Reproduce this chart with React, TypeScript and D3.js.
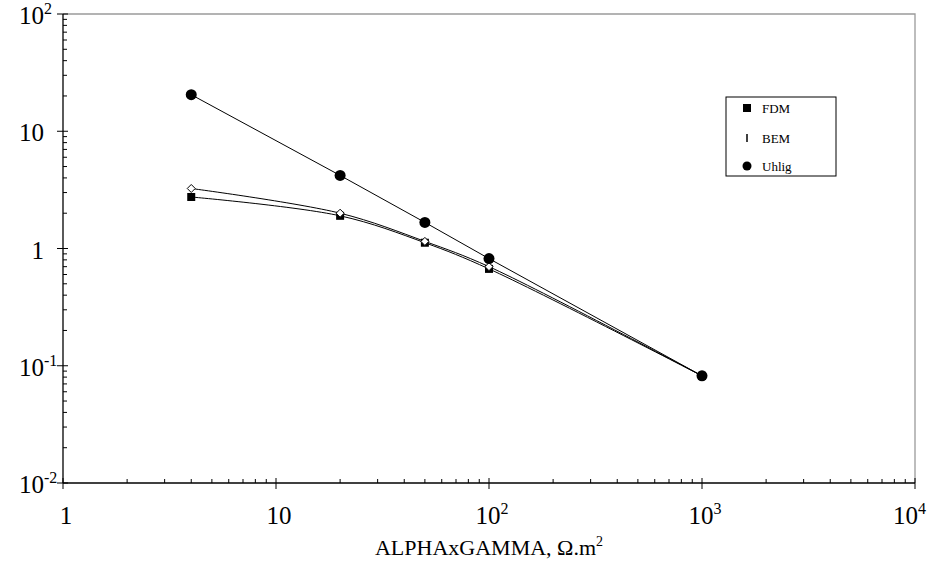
import React from "react";
import * as d3 from "d3";

const xValues = [4, 20, 50, 100, 1000];
const fdmValues = [2.75, 1.9, 1.12, 0.67, 0.082];
const bemValues = [3.25, 2.0, 1.15, 0.7, 0.082];
const uhligValues = [20.5, 4.2, 1.67, 0.82, 0.082];
const xTickExps = [0, 1, 2, 3, 4];
const yTickExps = [-2, -1, 0, 1, 2];
const legendLabels = ["FDM", "BEM", "Uhlig"];
const xTitle = "ALPHAxGAMMA, Ω.m";

const W = 928;
const H = 564;
const L = 63, R = 915, T = 14, B = 483;
const FONT = "Liberation Serif, Times New Roman, Times, serif";

export default function App() {
  const x = d3.scaleLog().domain([1, 1e4]).range([L, R]);
  const y = d3.scaleLog().domain([0.01, 100]).range([B, T]);

  const minorX: number[] = [];
  for (let e = 0; e < 4; e++) for (let k = 2; k <= 9; k++) minorX.push(k * Math.pow(10, e));
  const minorY: number[] = [];
  for (let e = -2; e < 2; e++) for (let k = 2; k <= 9; k++) minorY.push(k * Math.pow(10, e));

  const straight = d3.line<number>().x((_, i) => x(xValues[i])).y((d) => y(d));
  const smooth = d3
    .line<number>()
    .x((_, i) => x(xValues[i]))
    .y((d) => y(d))
    .curve(d3.curveCatmullRom.alpha(0.5));

  const diamond = (cx: number, cy: number, r: number) =>
    `M${cx},${cy - r}L${cx + r},${cy}L${cx},${cy + r}L${cx - r},${cy}Z`;

  const lg = { x: 726, y: 97, w: 110, h: 79 };
  const legendY = [108, 138, 166];
  const ts = { fontFamily: FONT };

  return (
    <svg
      width={W}
      height={H}
      style={{ position: "absolute", left: 0, top: 0, background: "#fff", fontFamily: FONT }}
    >
      <rect x={0} y={0} width={W} height={H} fill="#fff" />
      <path d={`M${L},${T}H${R}V${B}`} fill="none" stroke="#9a9a9a" strokeWidth={1.3} />
      <line x1={L} x2={L} y1={T} y2={B} stroke="#000" strokeWidth={1.3} />
      <line x1={L} x2={R} y1={B} y2={B} stroke="#000" strokeWidth={1.3} />

      {yTickExps.map((e) => (
        <line key={"ym" + e} x1={L - 6} x2={L + 5} y1={y(Math.pow(10, e))} y2={y(Math.pow(10, e))} stroke="#000" strokeWidth={1} />
      ))}
      {minorY.map((v) => (
        <line key={"yn" + v} x1={L} x2={L + 4} y1={y(v)} y2={y(v)} stroke="#000" strokeWidth={1} />
      ))}
      {xTickExps.map((e) => (
        <line key={"xm" + e} x1={x(Math.pow(10, e))} x2={x(Math.pow(10, e))} y1={B - 5} y2={B + 6} stroke="#000" strokeWidth={1} />
      ))}
      {minorX.map((v) => (
        <line key={"xn" + v} x1={x(v)} x2={x(v)} y1={B - 4} y2={B} stroke="#000" strokeWidth={1} />
      ))}

      {yTickExps.map((e) => {
        const yy = y(Math.pow(10, e)) + 10;
        const base = e === 0 ? "1" : "10";
        return (
          <g key={"yl" + e}>
            <text style={ts} x={44} y={yy} textAnchor="end" fontSize={25} fill="#000">{base}</text>
            {e !== 0 && e !== 1 && (
              <text style={ts} x={44} y={yy - 10} fontSize={16} fill="#000">{String(e)}</text>
            )}
          </g>
        );
      })}
      {xTickExps.map((e) => {
        const xx = x(Math.pow(10, e)) + 3;
        return (
          <text
            style={ts}
            key={"xl" + e}
            x={e === 4 ? 926 : xx}
            y={524}
            textAnchor={e === 4 ? "end" : "middle"}
            fontSize={25}
            fill="#000"
          >
            <tspan>{e === 0 ? "1" : "10"}</tspan>
            {e > 1 && <tspan dy={-10} fontSize={16}>{String(e)}</tspan>}
          </text>
        );
      })}
      <text style={ts} x={489} y={555} textAnchor="middle" fontSize={22} fill="#000">
        <tspan>{xTitle}</tspan>
        <tspan dy={-9} fontSize={14}>2</tspan>
      </text>

      <path d={straight(uhligValues) || ""} fill="none" stroke="#000" strokeWidth={1} />
      <path d={smooth(fdmValues) || ""} fill="none" stroke="#000" strokeWidth={1} />
      <path d={smooth(bemValues) || ""} fill="none" stroke="#000" strokeWidth={1} />

      {fdmValues.map((v, i) => (
        <rect key={"f" + i} x={x(xValues[i]) - 4} y={y(v) - 4} width={8} height={8} fill="#000" />
      ))}
      {bemValues.map((v, i) => (
        <path key={"b" + i} d={diamond(x(xValues[i]), y(v), 4)} fill="#fff" stroke="#000" strokeWidth={1} />
      ))}
      {uhligValues.map((v, i) => (
        <circle key={"u" + i} cx={x(xValues[i])} cy={y(v)} r={5.5} fill="#000" />
      ))}

      <rect x={lg.x} y={lg.y} width={lg.w} height={lg.h} fill="#fff" stroke="#000" strokeWidth={1} />
      <rect x={743} y={legendY[0] - 4} width={8} height={8} fill="#000" />
      <line x1={747} x2={747} y1={legendY[1] - 4} y2={legendY[1] + 4} stroke="#000" strokeWidth={1.5} />
      <circle cx={747} cy={legendY[2]} r={4.5} fill="#000" />
      {legendLabels.map((t, i) => (
        <text style={ts} key={t} x={762} y={legendY[i] + 4.5} fontSize={13} fill="#000">{t}</text>
      ))}
    </svg>
  );
}
